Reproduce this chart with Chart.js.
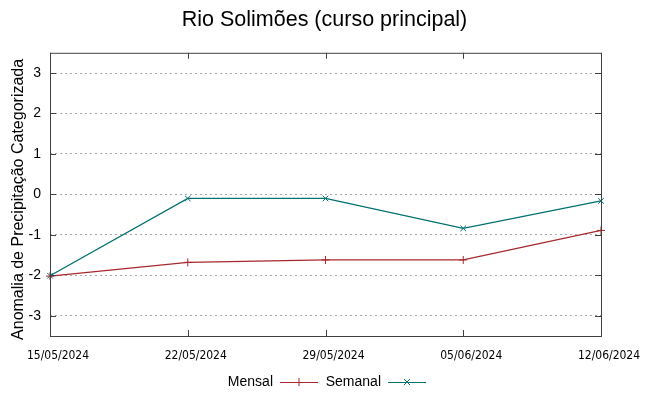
<!DOCTYPE html>
<html>
<head>
<meta charset="utf-8">
<script src="https://cdn.jsdelivr.net/npm/chart.js@4.4.1/dist/chart.umd.min.js"></script>
<style>
	body { margin: 0; background: #fff; }
</style>
</head>
<body>
<canvas id="chart" width="649" height="396"></canvas>
<script>
var datas = ['15/05/2024', '22/05/2024', '29/05/2024', '05/06/2024', '12/06/2024'];
var mensal = [-2.02, -1.68, -1.62, -1.62, -0.89];
var semanal = [-2.01, -0.1, -0.1, -0.84, -0.16];
var yTicks = [-3, -2, -1, 0, 1, 2, 3];

var corMensal = '#a8282e';
var corSemanal = '#007070';
var tituloY = 'Anomalia de Precipitação Categorizada';

// borda estilo gnuplot com ticks para dentro + titulo do eixo y + legenda embaixo
var gnuBorder = {
	id: 'gnuBorder',
	afterDraw(chart) {
		var c = chart.ctx, a = chart.chartArea;
		var x = chart.scales.x, y = chart.scales.y;
		c.save();
		c.strokeStyle = '#404040';
		c.lineWidth = 1;
		c.strokeRect(a.left + 0.5, a.top + 0.5, a.right - a.left, a.bottom - a.top);
		c.beginPath();
		yTicks.forEach(v => {
			var py = Math.round(y.getPixelForValue(v)) + 0.5;
			c.moveTo(a.left, py); c.lineTo(a.left + 6, py);
			c.moveTo(a.right, py); c.lineTo(a.right - 6, py);
		});
		datas.forEach((d, i) => {
			var px = Math.round(x.getPixelForValue(i)) + 0.5;
			c.moveTo(px, a.bottom); c.lineTo(px, a.bottom - 6);
			c.moveTo(px, a.top); c.lineTo(px, a.top + 6);
		});
		c.stroke();

		// titulo do eixo y (um pouco abaixo do centro, como no gnuplot)
		c.save();
		c.translate(19, (a.top + a.bottom) / 2 + 5);
		c.rotate(-Math.PI / 2);
		c.font = '16px "Liberation Sans", Arial, sans-serif';
		c.fillStyle = '#000';
		c.textAlign = 'center';
		c.textBaseline = 'middle';
		c.fillText(tituloY, 0, 0);
		c.restore();

		// legenda
		var ly = 382;
		c.font = '14px "Liberation Sans", Arial, sans-serif';
		c.fillStyle = '#000';
		c.textAlign = 'right';
		c.textBaseline = 'middle';
		var itens = [
			{ label: chart.data.datasets[0].label, cor: corMensal, tx: 273, x0: 280, x1: 318, mk: '+' },
			{ label: chart.data.datasets[1].label, cor: corSemanal, tx: 381, x0: 388, x1: 426, mk: 'x' },
		];
		itens.forEach(it => {
			c.fillText(it.label, it.tx, ly);
			c.strokeStyle = it.cor;
			c.beginPath();
			c.moveTo(it.x0, ly + 0.5); c.lineTo(it.x1, ly + 0.5);
			var mx = (it.x0 + it.x1) / 2;
			if (it.mk == '+') {
				c.moveTo(mx, ly - 4); c.lineTo(mx, ly + 4);
			} else {
				c.moveTo(mx - 3, ly - 3); c.lineTo(mx + 3, ly + 3);
				c.moveTo(mx - 3, ly + 3); c.lineTo(mx + 3, ly - 3);
			}
			c.stroke();
		});
		c.restore();
	}
};

new Chart(document.getElementById('chart'), {
	type: 'line',
	data: {
		labels: datas,
		datasets: [{
			label: 'Mensal',
			data: mensal,
			borderColor: corMensal,
			backgroundColor: corMensal,
			borderWidth: 1.3,
			pointStyle: 'cross',
			pointRadius: 4,
			pointBorderWidth: 1,
			tension: 0,
		}, {
			label: 'Semanal',
			data: semanal,
			borderColor: corSemanal,
			backgroundColor: corSemanal,
			borderWidth: 1.3,
			pointStyle: 'crossRot',
			pointRadius: 4,
			pointBorderWidth: 1,
			tension: 0,
		}],
	},
	options: {
		responsive: false,
		animation: false,
		events: [],
		layout: {
			padding: 0
		},
		plugins: {
			legend: { display: false },
			tooltip: { enabled: false },
			title: {
				display: true,
				text: 'Rio Solimões (curso principal)',
				color: '#000',
				font: { family: '"Liberation Sans", Arial, sans-serif', size: 21.5, weight: 'normal' },
				lineHeight: 1.2,
				padding: { top: 7, bottom: 20 },
			},
		},
		scales: {
			x: {
				type: 'category',
				offset: false,
				grid: { display: false, drawTicks: false },
				border: { display: false },
				ticks: {
					color: '#000',
					font: { family: '"Liberation Sans Narrow", "DejaVu Sans Condensed", sans-serif', size: 12 },
					labelOffset: 8,
					padding: 13,
					maxRotation: 0,
					autoSkip: false,
				},
				afterFit(s) { s.height = 60; },
			},
			y: {
				min: -3.5,
				max: 3.5,
				afterBuildTicks(s) { s.ticks = yTicks.map(v => ({ value: v })); },
				grid: {
					color: '#a8a8a8',
					drawTicks: false,
					lineWidth: 1,
				},
				border: { display: false, dash: [2, 3] },
				ticks: {
					color: '#000',
					font: { family: '"Liberation Sans", Arial, sans-serif', size: 14 },
					padding: 9,
				},
				afterFit(s) { s.width = 50; },
			},
			// eixo vazio à direita só para reservar a margem
			y2: {
				position: 'right',
				min: -3.5,
				max: 3.5,
				grid: { display: false, drawTicks: false },
				border: { display: false },
				ticks: { display: false },
				afterFit(s) { s.width = 48; },
			},
		},
	},
	plugins: [gnuBorder],
});
</script>
</body>
</html>
